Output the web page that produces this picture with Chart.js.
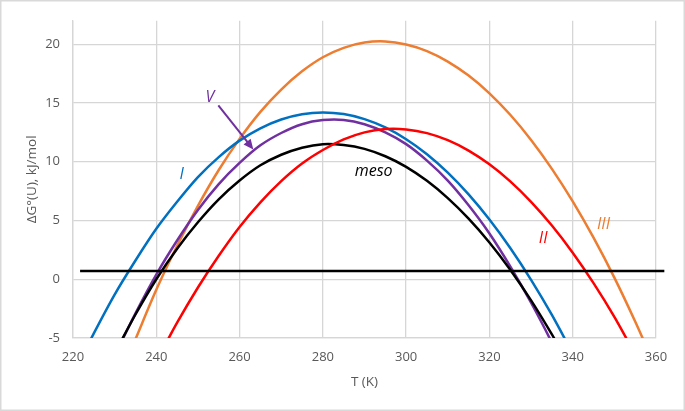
<!DOCTYPE html>
<html>
<head>
<meta charset="utf-8">
<script src="https://cdn.jsdelivr.net/npm/chart.js@4"></script>
<style>
  html, body { margin: 0; padding: 0; background: #fff; }
  #box { width: 685px; height: 411px; }
</style>
</head>
<body>
<div id="box"><canvas id="chart" width="685" height="411"></canvas></div>
<script>
const temps = [220, 225, 230, 235, 240, 245, 250, 255, 260, 265, 270, 275, 280, 285, 290,
               295, 300, 305, 310, 315, 320, 325, 330, 335, 340, 345, 350, 355, 360];

// ΔG°(U) in kJ/mol, null where the curve is off the chart
const dgI    = [-8.1, -4.6, -1.3, 1.6, 4.3, 6.6, 8.7, 10.4, 11.8, 12.85, 13.6, 14.05, 14.2, 14.06, 13.63,
                12.92, 11.92, 10.64, 9.07, 7.22, 5.08, 2.66, -0.05, -3.04, -6.32, null, null, null, null];
const dgV    = [null, null, -6.5, -2.9, 0.4, 3.3, 5.9, 8.1, 9.9, 11.4, 12.45, 13.2, 13.55, 13.56, 13.2,
                12.5, 11.5, 10.1, 8.4, 6.3, 3.9, 1.1, -2.0, -5.4, -9.2, null, null, null, null];
const dgMeso = [null, null, -6.3, -3.0, 0.0, 2.6, 4.85, 6.8, 8.4, 9.7, 10.6, 11.2, 11.5, 11.43, 11.1,
                10.47, 9.57, 8.38, 6.91, 5.16, 3.13, 0.81, -1.8, -4.7, -7.8, null, null, null, null];
const dgII   = [null, null, null, null, -7.0, -3.7, -0.7, 2.0, 4.45, 6.55, 8.35, 9.85, 11.0, 11.9, 12.5,
                12.78, 12.75, 12.44, 11.84, 10.95, 9.78, 8.33, 6.59, 4.57, 2.26, -0.33, -3.2, -6.4, null];
const dgIII  = [null, null, null, -5.1, -0.9, 2.85, 6.25, 9.3, 11.95, 14.25, 16.15, 17.7, 18.9, 19.7, 20.15,
                20.24, 19.98, 19.42, 18.53, 17.34, 15.83, 14.0, 11.86, 9.4, 6.63, 3.54, 0.14, -3.6, -7.6];

// horizontal reference line
const refLevel = 0.7;
const refFrom = 221.7;
const refTo = 362;

const xRange = [220, 360];
const yRange = [-5, 22];

// curve labels, placed in data units
const notes = [
  { text: 'I',    x: 246.1, y: 8.9,  color: '#0070C0' },
  { text: 'V',    x: 252.9, y: 15.5, color: '#7030A0' },
  { text: 'meso', x: 292.2, y: 9.2,  color: '#000000' },
  { text: 'II',   x: 332.9, y: 3.5,  color: '#FF0000' },
  { text: 'III',  x: 347.4, y: 4.7,  color: '#ED7D31' }
];
const arrowV = { from: [254.9, 14.8], to: [263.3, 11.05], color: '#7030A0' };

const FONT = "'Open Sans', sans-serif";

function toPoints(vals) {
  return temps.map((t, i) => ({ x: t, y: vals[i] })).filter(p => p.y !== null);
}

function curve(vals, color) {
  return {
    data: toPoints(vals),
    borderColor: color,
    borderWidth: 2.5,
    pointRadius: 0,
    showLine: true,
    tension: 0.3,
    fill: false
  };
}

const frame = {
  id: 'frame',
  beforeDraw(chart) {
    const ctx = chart.ctx;
    ctx.save();
    ctx.fillStyle = '#fff';
    ctx.fillRect(0, 0, chart.width, chart.height);
    ctx.strokeStyle = '#d9d9d9';
    ctx.lineWidth = 1.5;
    ctx.strokeRect(0.75, 0.75, chart.width - 1.5, chart.height - 1.5);
    ctx.restore();
  }
};

const labels = {
  id: 'labels',
  afterDatasetsDraw(chart) {
    const ctx = chart.ctx;
    const xs = chart.scales.x, ys = chart.scales.y;
    ctx.save();
    ctx.font = 'italic 16px ' + FONT;
    ctx.textAlign = 'center';
    ctx.textBaseline = 'middle';
    notes.forEach(n => {
      ctx.fillStyle = n.color;
      ctx.fillText(n.text, xs.getPixelForValue(n.x), ys.getPixelForValue(n.y));
    });

    const x1 = xs.getPixelForValue(arrowV.from[0]), y1 = ys.getPixelForValue(arrowV.from[1]);
    const x2 = xs.getPixelForValue(arrowV.to[0]), y2 = ys.getPixelForValue(arrowV.to[1]);
    const a = Math.atan2(y2 - y1, x2 - x1);
    const head = 10;
    ctx.strokeStyle = arrowV.color;
    ctx.fillStyle = arrowV.color;
    ctx.lineWidth = 2;
    ctx.beginPath();
    ctx.moveTo(x1, y1);
    ctx.lineTo(x2 - head * 0.8 * Math.cos(a), y2 - head * 0.8 * Math.sin(a));
    ctx.stroke();
    ctx.beginPath();
    ctx.moveTo(x2, y2);
    ctx.lineTo(x2 - head * Math.cos(a) + 4.5 * Math.sin(a), y2 - head * Math.sin(a) - 4.5 * Math.cos(a));
    ctx.lineTo(x2 - head * Math.cos(a) - 4.5 * Math.sin(a), y2 - head * Math.sin(a) + 4.5 * Math.cos(a));
    ctx.closePath();
    ctx.fill();
    ctx.restore();
  }
};

const ctx = document.getElementById('chart').getContext('2d');
new Chart(ctx, {
  type: 'scatter',
  data: {
    datasets: [
      {
        data: [{ x: refFrom, y: refLevel }, { x: refTo, y: refLevel }],
        borderColor: '#000',
        borderWidth: 2.5,
        pointRadius: 0,
        showLine: true,
        clip: false
      },
      curve(dgII, '#FF0000'),
      curve(dgMeso, '#000000'),
      curve(dgV, '#7030A0'),
      curve(dgI, '#0070C0'),
      curve(dgIII, '#ED7D31')
    ]
  },
  options: {
    responsive: false,
    animation: false,
    layout: { padding: { left: 0, top: 18, right: 29, bottom: 0 } },
    plugins: {
      legend: { display: false },
      tooltip: { enabled: false }
    },
    scales: {
      x: {
        type: 'linear',
        min: xRange[0],
        max: xRange[1],
        afterFit(scale) { scale.height = 73; },
        ticks: { stepSize: 20, color: '#595959', padding: 11, font: { family: FONT, size: 13 } },
        grid: { color: '#d6d6d6', lineWidth: 1.3, drawTicks: false },
        border: { color: '#d6d6d6', width: 1.3 },
        title: {
          display: true,
          text: 'T (K)',
          color: '#595959',
          font: { family: FONT, size: 13.5 },
          padding: { top: 0, bottom: 21 }
        }
      },
      y: {
        min: yRange[0],
        max: yRange[1],
        afterFit(scale) { scale.width = 73; },
        ticks: { stepSize: 5, includeBounds: false, color: '#595959', padding: 13, font: { family: FONT, size: 13 } },
        grid: { color: '#d6d6d6', lineWidth: 1.3, drawTicks: false },
        border: { color: '#d6d6d6', width: 1.3 },
        title: {
          display: true,
          text: 'ΔG°(U), kJ/mol',
          color: '#595959',
          font: { family: FONT, size: 13.5 },
          padding: { top: 24, bottom: 0 }
        }
      }
    }
  },
  plugins: [frame, labels]
});
</script>
</body>
</html>
